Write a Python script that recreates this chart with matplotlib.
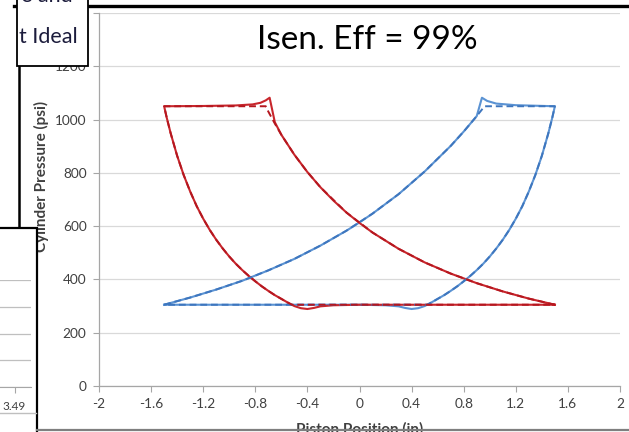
import matplotlib
matplotlib.use('Agg')
import matplotlib.pyplot as plt
from matplotlib.patches import Rectangle
from matplotlib.lines import Line2D

# ---------------- data ----------------
blue_x = [-1.5, -1.3, -1.1, -0.9, -0.7, -0.5, -0.3, -0.1, 0.0, 0.1, 0.3, 0.5, 0.7, 0.8, 0.9, 0.94,
          0.98, 1.05, 1.2, 1.5, 1.48, 1.45, 1.4, 1.35, 1.3, 1.25, 1.2, 1.15, 1.1, 1.05, 1.0,
          0.95, 0.9, 0.85, 0.8, 0.75, 0.7, 0.65, 0.6, 0.55, 0.5, 0.45, 0.4, 0.35, 0.3, 0.2, 0.0, -0.5,
          -1.0, -1.5]
blue_p = [305, 332, 362, 395, 434, 477, 527, 583, 614, 647, 720, 805, 901, 955, 1013, 1082,
          1070, 1060, 1054, 1050, 1007, 949, 864, 792, 730, 675, 628, 586, 549, 516, 486,
          459, 435, 413, 393, 374, 357, 341, 327, 313, 300, 292, 289, 293, 299, 303, 305, 305,
          305, 305]

red_x = [1.5, 1.3, 1.1, 0.9, 0.7, 0.5, 0.3, 0.1, 0.0, -0.1, -0.2, -0.3, -0.4, -0.5, -0.6, -0.65, -0.69,
         -0.72, -0.76, -0.82, -0.95, -1.2, -1.5, -1.48, -1.45, -1.4, -1.35, -1.3, -1.25, -1.2, -1.15, -1.1,
         -1.05, -1.0, -0.95, -0.9, -0.85, -0.8, -0.75, -0.7, -0.65, -0.6, -0.55, -0.5, -0.45, -0.4, -0.35,
         -0.3, -0.2, 0.0, 0.5, 1.0, 1.5]
red_p = [305, 328, 355, 386, 422, 464, 515, 576, 612, 651, 696, 746, 803, 868, 943, 990, 1082,
         1072, 1063, 1057, 1053, 1051, 1050, 1007, 949, 864, 792, 730, 675, 628, 586, 549,
         516, 486, 459, 435, 413, 393, 374, 357, 341, 327, 313, 300, 292, 289, 293,
         299, 303, 305, 305, 305, 305]

ideal_blue_x = [-1.5, -1.3, -1.1, -0.9, -0.7, -0.5, -0.3, -0.1, 0.1, 0.3, 0.5, 0.7, 0.8, 0.9, 0.96,
                1.5, 1.48, 1.45, 1.4, 1.35, 1.3, 1.25, 1.2, 1.15, 1.1, 1.05, 1.0, 0.95, 0.9, 0.85, 0.8,
                0.75, 0.7, 0.65, 0.6, 0.55, 0.52, -1.5]
ideal_blue_p = [305, 332, 362, 395, 434, 477, 527, 583, 647, 720, 805, 901, 955, 1013, 1050,
                1050, 1007, 949, 864, 792, 730, 675, 628, 586, 549, 516, 486, 459, 435, 413, 393,
                374, 357, 341, 327, 313, 305, 305]

ideal_red_x = [1.5, 1.3, 1.1, 0.9, 0.7, 0.5, 0.3, 0.1, -0.1, -0.3, -0.4, -0.5, -0.6, -0.65, -0.7, -0.72,
               -1.5, -1.48, -1.45, -1.4, -1.35, -1.3, -1.25, -1.2, -1.15, -1.1, -1.05, -1.0, -0.95, -0.9,
               -0.85, -0.8, -0.75, -0.7, -0.65, -0.6, -0.55, -0.52, 1.5]
ideal_red_p = [305, 328, 355, 386, 422, 464, 515, 576, 651, 746, 803, 868, 943, 985, 1030, 1050,
               1050, 1007, 949, 864, 792, 730, 675, 628, 586, 549, 516, 486, 459, 435,
               413, 393, 374, 357, 341, 327, 313, 305, 305]

x_ticks = [-2, -1.6, -1.2, -0.8, -0.4, 0, 0.4, 0.8, 1.2, 1.6, 2]
x_tick_labels = ['-2', '-1.6', '-1.2', '-0.8', '-0.4', '0', '0.4', '0.8', '1.2', '1.6', '2']
y_ticks = [0, 200, 400, 600, 800, 1000, 1200, 1400]

title_text = 'Isen. Eff = 99%'
x_label = 'Piston Position (in)'
y_label = 'Cylinder Pressure (psi)'
legend_text = 't Ideal'
legend_top_text = 'e and'
side_tick_value = 3.49

# ---------------- figure ----------------
FONT = ['Lato', 'DejaVu Sans']
plt.rcParams['font.family'] = FONT

W, H = 629, 432
fig = plt.figure(figsize=(6.29, 4.32), dpi=100)
fig.patch.set_facecolor('white')


def fx(x):
    return x / W


def fy(y):
    return 1 - y / H


ax = fig.add_axes([fx(99), fy(386), fx(620) - fx(99), fy(13) - fy(386)])
ax.set_facecolor('white')
ax.set_xlim(-2, 2)
ax.set_ylim(0, 1400)
ax.set_xticks(x_ticks)
ax.set_xticklabels(x_tick_labels)
ax.set_yticks(y_ticks)
for s in ['top', 'right']:
    ax.spines[s].set_visible(False)
for s in ['left', 'bottom']:
    ax.spines[s].set_color('#A6A6A6')
    ax.spines[s].set_linewidth(0.9)
ax.grid(axis='y', color='#D9D9D9', lw=0.9)
ax.set_axisbelow(True)
ax.tick_params(direction='out', length=4, color='#A6A6A6', labelsize=9.8,
               labelcolor='#404040', pad=5)

blue = '#5B93D3'
red = '#C8262C'
ax.plot(blue_x, blue_p, color=blue, lw=1.5, zorder=3)
ax.plot(red_x, red_p, color=red, lw=1.5, zorder=3)
ax.plot(ideal_blue_x, ideal_blue_p, color='#3E76BE', lw=1.4, ls=(0, (3.5, 2)), zorder=4)
ax.plot(ideal_red_x, ideal_red_p, color='#B5171F', lw=1.4, ls=(0, (3.5, 2)), zorder=4)

fig.text(fx(367), fy(40), title_text, ha='center', va='center', fontsize=24, color='black')

# axis labels as figure text
fig.text(fx(359.5), fy(422), x_label, ha='center', va='top', fontsize=11,
         fontweight='bold', color='#404040', zorder=2)
fig.text(fx(41), fy(176), y_label, ha='center', va='center', rotation=90, fontsize=11,
         fontweight='bold', color='#404040', zorder=2)

# black frame pieces
fig.add_artist(Line2D([fx(14), 1.0], [fy(6), fy(6)], color='black', lw=2.4, zorder=5))
fig.add_artist(Line2D([fx(18.5), fx(18.5)], [fy(5), fy(229)], color='black', lw=1.8, zorder=5))

# partial legend box
fig.add_artist(Rectangle((fx(17), fy(66)), fx(88) - fx(17), fy(-5) - fy(66), facecolor='white',
                         edgecolor='black', lw=1.3, zorder=6))
fig.text(fx(19), fy(37), legend_text, ha='left', va='center', fontsize=15.5, color='#1C1C3C', zorder=7)
fig.text(fx(21), fy(2.5), legend_top_text, ha='left', va='baseline', fontsize=15.5, color='#1C1C3C', zorder=7)

# overlapping side panel at the lower left
fig.add_artist(Rectangle((fx(-3), fy(440)), fx(37) + 3 / W, fy(228) - fy(440), facecolor='white',
                         edgecolor='black', lw=1.6, zorder=6))
ax2 = fig.add_axes([0, fy(387), fx(31), (387 - 280) / H])
ax2.set_zorder(8)
ax2.patch.set_visible(False)
ax2.set_xlim(0, 31)
ax2.set_ylim(0, 4)
ax2.set_yticks([0, 1, 2, 3, 4])
ax2.set_yticklabels([])
ax2.tick_params(axis='y', length=0)
ax2.grid(axis='y', color='#BFBFBF', lw=0.9)
ax2.set_xticks([14.5])
ax2.set_xticklabels([f'{side_tick_value:.2f}'])
ax2.tick_params(axis='x', direction='out', length=4, color='#A6A6A6', labelsize=8.5,
                labelcolor='#404040', pad=6)
for s in ['top', 'right', 'left']:
    ax2.spines[s].set_visible(False)
ax2.spines['bottom'].set_color('#A6A6A6')
fig.add_artist(Line2D([0, fx(36)], [fy(413), fy(413)], color='#BFBFBF', lw=1.0, zorder=9))

# bottom grey edge
fig.add_artist(Line2D([fx(37), 1.0], [fy(430), fy(430)], color='#7F7F7F', lw=1.6, zorder=9))

fig.savefig('out.png', dpi=100, facecolor='white')
